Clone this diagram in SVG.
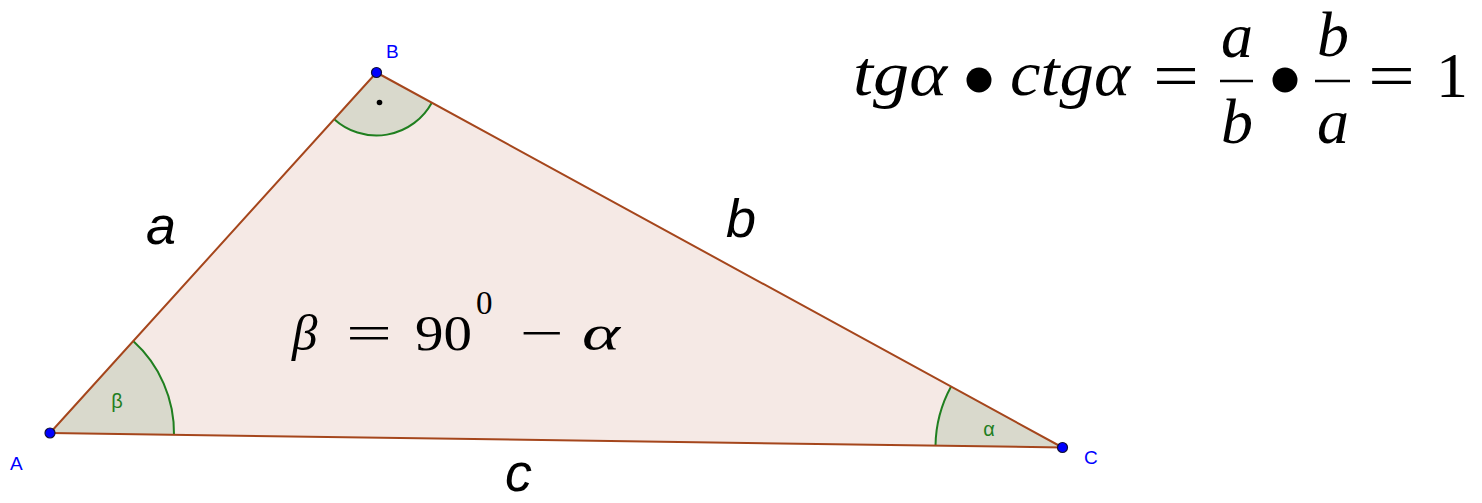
<svg xmlns="http://www.w3.org/2000/svg" width="1482" height="503" viewBox="0 0 1482 503">
<style>
.edge{stroke:#a5461c;stroke-width:2;fill:none;stroke-linecap:round}
.sector{fill:#d9d9cc;stroke:none}
.arc{fill:none;stroke:#1f7f1f;stroke-width:2}
.pt{fill:#0000ff;stroke:#10103a;stroke-width:1.2}
.plabel{font-family:"Liberation Sans",Arial,sans-serif;font-size:19px;fill:#0000ff}
.alabel{font-family:"Liberation Sans",Arial,sans-serif;font-size:20px;fill:#1f7f1f}
.side{font-family:"Liberation Sans",Arial,sans-serif;font-size:54px;font-style:italic;fill:#000}
.m{font-family:"Liberation Serif","Times New Roman",serif;fill:#000}
.mi{font-family:"Liberation Serif","Times New Roman",serif;font-style:italic;fill:#000}
.bar{stroke:#000;stroke-width:2.5}
</style>
<rect width="1482" height="503" fill="#ffffff"/>
<g id="triangle">
<polygon points="50,433 376.5,72.5 1062.5,447.5" fill="#f5e9e5" stroke="none"/>
</g>
<g id="angles">
<path class="sector" d="M50,433 L133.2,341.1 A124,124 0 0 1 174,434.8 Z"/>
<path class="arc" d="M133.2,341.1 A124,124 0 0 1 174,434.8"/>
<path class="sector" d="M376.5,72.5 L334.2,119.2 A63,63 0 0 0 431.8,102.7 Z"/>
<path class="arc" d="M334.2,119.2 A63,63 0 0 0 431.8,102.7"/>
<circle cx="379.5" cy="102.5" r="2.8" fill="#000"/>
<path class="sector" d="M1062.5,447.5 L935.5,445.7 A127,127 0 0 1 951.1,386.6 Z"/>
<path class="arc" d="M935.5,445.7 A127,127 0 0 1 951.1,386.6"/>
<text class="alabel" x="117" y="408" text-anchor="middle">β</text>
<text class="alabel" x="989" y="436" text-anchor="middle">α</text>
</g>
<g id="connectors">
<line class="edge" x1="50" y1="433" x2="376.5" y2="72.5"/>
<line class="edge" x1="376.5" y1="72.5" x2="1062.5" y2="447.5"/>
<line class="edge" x1="50" y1="433" x2="1062.5" y2="447.5"/>
</g>
<g id="side-labels">
<text class="side" x="146" y="244">a</text>
<text class="side" x="726" y="237">b</text>
<text class="side" x="505" y="491">c</text>
</g>
<g id="A">
<circle class="pt" cx="50" cy="433" r="5"/>
<text class="plabel" x="10" y="470">A</text>
</g>
<g id="B">
<circle class="pt" cx="376.5" cy="72.5" r="5"/>
<text class="plabel" x="386" y="58">B</text>
</g>
<g id="C">
<circle class="pt" cx="1062.5" cy="447.5" r="5"/>
<text class="plabel" x="1084" y="464">C</text>
</g>
<g id="formula-beta">
<text class="mi" x="292" y="350" font-size="51">β</text>
<text class="m" x="346" y="350" font-size="51" textLength="46" lengthAdjust="spacingAndGlyphs">=</text>
<text class="m" x="415" y="350" font-size="51" textLength="57" lengthAdjust="spacingAndGlyphs">90</text>
<text class="m" x="476" y="314" font-size="33">0</text>
<text class="m" x="520" y="350" font-size="51" textLength="44" lengthAdjust="spacingAndGlyphs">−</text>
<text class="mi" x="582" y="350" font-size="51" textLength="38" lengthAdjust="spacingAndGlyphs">α</text>
</g>
<g id="formula-tg">
<text class="mi" x="853" y="95" font-size="64" textLength="94" lengthAdjust="spacingAndGlyphs">tgα</text>
<circle cx="979" cy="80" r="12.5" fill="#000"/>
<text class="mi" x="1010" y="95" font-size="64" textLength="120" lengthAdjust="spacingAndGlyphs">ctgα</text>
<text class="m" x="1153" y="97" font-size="64" textLength="46" lengthAdjust="spacingAndGlyphs">=</text>
<line class="bar" x1="1220" y1="81" x2="1253" y2="81"/>
<text class="mi" x="1237" y="57" font-size="64" text-anchor="middle">a</text>
<text class="mi" x="1237" y="143" font-size="64" text-anchor="middle">b</text>
<circle cx="1285" cy="80" r="12.5" fill="#000"/>
<line class="bar" x1="1315" y1="81" x2="1350" y2="81"/>
<text class="mi" x="1333" y="56" font-size="64" text-anchor="middle">b</text>
<text class="mi" x="1333" y="143" font-size="64" text-anchor="middle">a</text>
<text class="m" x="1368" y="97" font-size="64" textLength="47" lengthAdjust="spacingAndGlyphs">=</text>
<text class="m" x="1452" y="97" font-size="64" text-anchor="middle">1</text>
</g>
</svg>
